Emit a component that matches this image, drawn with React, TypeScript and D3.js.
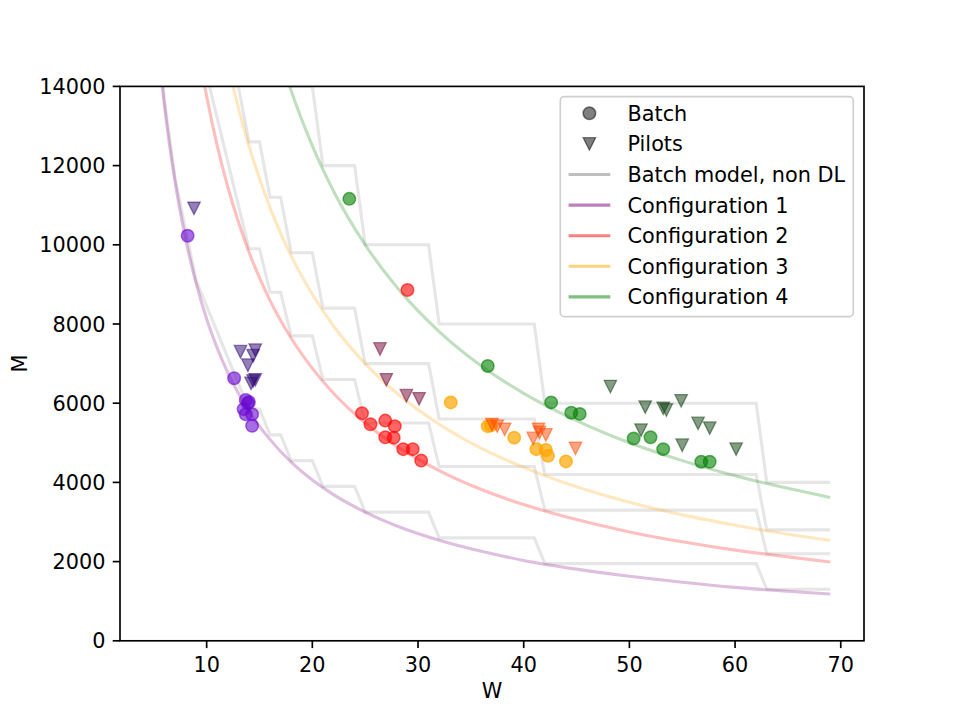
import React from 'react';
import * as d3 from 'd3';

const WIDTH = 960;
const HEIGHT = 720;
const PLOT = { left: 120, right: 864, top: 86.4, bottom: 640.8 };
const FONT = 'DejaVu Sans, sans-serif';
const FONT_SIZE = 20.8;

const X_TICKS = [10, 20, 30, 40, 50, 60, 70];
const Y_TICKS = [0, 2000, 4000, 6000, 8000, 10000, 12000, 14000];

const CONFIG_NAMES = ['Configuration 1', 'Configuration 2', 'Configuration 3', 'Configuration 4'];
const CONFIG_LINE_COLORS = ['#800080', '#ff0000', '#ffa500', '#008000'];
const CONFIG_LINE_ALPHA = [0.25, 0.25, 0.25, 0.25];
const BATCH_COLORS = ['#6b0ad0', '#ff0000', '#ffa500', '#008000'];
const BATCH_ALPHA = [0.6, 0.6, 0.7, 0.6];
const PILOT_COLORS = ['#2a0070', '#700030', '#ff4900', '#0a3a0a'];

// batch model (non DL): W runs 5..69, node blocks per W, memory per block per configuration
const STEP_W = d3.range(5, 70);
const STEP_BLOCKS = [
  25, 21, 18, 16, 14, 13, 12, 11, 10, 9, 9, 8, 8, 7, 7, 7, 6, 6, 6, 6,
  5, 5, 5, 5, 5, 5, 5,
  4, 4, 4, 4, 4, 4, 4, 4, 4, 4,
  3, 3, 3, 3, 3, 3, 3, 3, 3, 3, 3, 3, 3, 3, 3, 3, 3, 3, 3, 3, 3,
  2, 2, 2, 2, 2, 2, 2,
];
const STEP_UNITS = [650, 1100, 1400, 2000];

// configuration curves
const CURVE_W = [5, 6, 7, 8, 9, 10, 11, 12, 13, 14, 16, 18, 20, 22, 25, 28, 32, 36, 40, 45, 50, 55, 60, 65, 69];
const CONF1_M = [16250, 13540, 11610, 10160, 9030, 8125, 7390, 6770, 6250, 5800, 5080, 4510, 4060, 3690, 3250, 2900, 2540, 2260, 2030, 1810, 1630, 1480, 1350, 1250, 1180];
const CONF2_M = [27500, 22920, 19640, 17190, 15280, 13750, 12500, 11460, 10580, 9820, 8590, 7640, 6880, 6250, 5500, 4910, 4300, 3820, 3440, 3060, 2750, 2500, 2290, 2120, 1990];
const CONF3_M = [35000, 29170, 25000, 21880, 19440, 17500, 15910, 14580, 13460, 12500, 10940, 9720, 8750, 7950, 7000, 6250, 5470, 4860, 4380, 3890, 3500, 3180, 2920, 2690, 2540];
const CONF4_M = [50000, 41670, 35710, 31250, 27780, 25000, 22730, 20830, 19230, 17860, 15630, 13890, 12500, 11360, 10000, 8930, 7810, 6940, 6250, 5560, 5000, 4550, 4170, 3850, 3620];
const CURVES = [CONF1_M, CONF2_M, CONF3_M, CONF4_M];

// measured points [W, M]
const BATCH_1 = [[8.2, 10230], [12.6, 6630], [13.7, 6080], [14.0, 6030], [13.9, 6000], [13.5, 5850], [13.7, 5720], [14.3, 5720], [14.3, 5430]];
const PILOTS_1 = [[8.8, 10920], [13.2, 7300], [14.6, 7340], [14.4, 7200], [13.9, 6960], [14.6, 6590], [14.2, 6500], [14.4, 6560]];
const BATCH_2 = [[24.7, 5745], [25.5, 5470], [26.9, 5560], [27.8, 5420], [26.9, 5140], [27.7, 5130], [28.6, 4840], [29.5, 4840], [30.3, 4550], [29.0, 8860]];
const PILOTS_2 = [[26.4, 7370], [27.0, 6590], [28.9, 6190], [30.1, 6110]];
const BATCH_3 = [[33.1, 6020], [36.6, 5420], [36.9, 5440], [39.1, 5130], [41.2, 4840], [42.1, 4820], [42.3, 4670], [44.0, 4530]];
const PILOTS_3 = [[37.0, 5460], [37.5, 5420], [38.2, 5340], [41.4, 5340], [41.5, 5260], [42.1, 5200], [40.9, 5110], [44.9, 4860]];
const BATCH_4 = [[23.5, 11160], [36.6, 6940], [42.6, 6020], [44.5, 5760], [45.3, 5730], [50.4, 5110], [52.0, 5140], [53.2, 4840], [56.8, 4520], [57.6, 4520]];
const PILOTS_4 = [[48.2, 6420], [51.5, 5900], [53.2, 5870], [53.5, 5830], [54.9, 6060], [51.1, 5320], [56.5, 5490], [57.6, 5370], [55.0, 4940], [60.1, 4840]];
const BATCHES = [BATCH_1, BATCH_2, BATCH_3, BATCH_4];
const PILOTS = [PILOTS_1, PILOTS_2, PILOTS_3, PILOTS_4];

const MARKER_R = 6.25;

function triangle(cx: number, cy: number, r: number) {
  return `M${cx - r},${cy - r}L${cx + r},${cy - r}L${cx},${cy + r}Z`;
}

export default function App() {
  const x = d3.scaleLinear().domain([1.8, 72.2]).range([PLOT.left, PLOT.right]);
  const y = d3.scaleLinear().domain([0, 14000]).range([PLOT.bottom, PLOT.top]);

  const stepLine = d3.line<number>().x((_, i) => x(STEP_W[i])).y(d => y(d));
  const curveLine = d3.line<number>().x((_, i) => x(CURVE_W[i])).y(d => y(d)).curve(d3.curveMonotoneX);

  const legendTop = 113.3;
  const legendGap = 30.6;
  const legendX = 560.3;
  const legendRows = [
    { label: 'Batch', kind: 'circle' },
    { label: 'Pilots', kind: 'triangle' },
    { label: 'Batch model, non DL', kind: 'line', color: '#808080' },
    ...CONFIG_NAMES.map((n, i) => ({ label: n, kind: 'line', color: CONFIG_LINE_COLORS[i] })),
  ];

  return (
    <div style={{ position: 'absolute', left: 0, top: 0 }}>
      <svg width={WIDTH} height={HEIGHT} style={{ display: 'block', background: '#fff' }} fontFamily={FONT}>
        <defs>
          <clipPath id="plot-clip">
            <rect x={PLOT.left} y={PLOT.top} width={PLOT.right - PLOT.left} height={PLOT.bottom - PLOT.top} />
          </clipPath>
        </defs>
        <rect x={0} y={0} width={WIDTH} height={HEIGHT} fill="#fff" />

        <g clipPath="url(#plot-clip)">
          {STEP_UNITS.map((unit, k) => (
            <path key={'step' + k} d={stepLine(STEP_BLOCKS.map(b => b * unit)) || ''}
              fill="none" stroke="#808080" strokeOpacity={0.2} strokeWidth={3.1} />
          ))}
          {CURVES.map((c, k) => (
            <path key={'curve' + k} d={curveLine(c) || ''} fill="none"
              stroke={CONFIG_LINE_COLORS[k]} strokeOpacity={CONFIG_LINE_ALPHA[k]} strokeWidth={3.1} />
          ))}
          {BATCHES.map((pts, k) => pts.map((p, j) => (
            <circle key={`b${k}-${j}`} cx={x(p[0])} cy={y(p[1])} r={MARKER_R}
              fill={BATCH_COLORS[k]} fillOpacity={BATCH_ALPHA[k]}
              stroke={BATCH_COLORS[k]} strokeOpacity={BATCH_ALPHA[k]} strokeWidth={1.5} />
          )))}
          {PILOTS.map((pts, k) => pts.map((p, j) => (
            <path key={`p${k}-${j}`} d={triangle(x(p[0]), y(p[1]), MARKER_R)}
              fill={PILOT_COLORS[k]} fillOpacity={0.5}
              stroke={PILOT_COLORS[k]} strokeOpacity={0.5} strokeWidth={1.3} strokeLinejoin="miter" />
          )))}
        </g>

        {/* spines */}
        <rect x={PLOT.left} y={PLOT.top} width={PLOT.right - PLOT.left} height={PLOT.bottom - PLOT.top}
          fill="none" stroke="#000" strokeWidth={1.67} />

        {/* x axis */}
        {X_TICKS.map(t => (
          <g key={'xt' + t} transform={`translate(${x(t)},${PLOT.bottom})`}>
            <line y1={0} y2={7.3} stroke="#000" strokeWidth={1.67} />
            <text y={14.6} dy="0.78em" textAnchor="middle" fontSize={FONT_SIZE}>{t}</text>
          </g>
        ))}
        <text x={(PLOT.left + PLOT.right) / 2} y={698} textAnchor="middle" fontSize={FONT_SIZE}>W</text>

        {/* y axis */}
        {Y_TICKS.map(t => (
          <g key={'yt' + t} transform={`translate(${PLOT.left},${y(t)})`}>
            <line x1={0} x2={-7.3} stroke="#000" strokeWidth={1.67} />
            <text x={-14.6} dy="0.36em" textAnchor="end" fontSize={FONT_SIZE}>{t}</text>
          </g>
        ))}
        <text transform={`translate(26.5,${(PLOT.top + PLOT.bottom) / 2}) rotate(-90)`} textAnchor="middle" fontSize={FONT_SIZE}>M</text>

        {/* legend */}
        <g>
          <rect x={legendX} y={96.7} width={293} height={220} rx={4} fill="#fff" fillOpacity={0.8}
            stroke="#d0d0d0" strokeWidth={1.67} />
          {legendRows.map((row, i) => {
            const ry = legendTop + i * legendGap;
            return (
              <g key={'lg' + i}>
                {row.kind === 'circle' && (
                  <circle cx={589.4} cy={ry} r={MARKER_R} fill="#000" fillOpacity={0.5} stroke="#000" strokeOpacity={0.5} strokeWidth={1.5} />
                )}
                {row.kind === 'triangle' && (
                  <path d={triangle(589.4, ry, MARKER_R)} fill="#000" fillOpacity={0.5} stroke="#000" strokeOpacity={0.5} strokeWidth={1.3} />
                )}
                {row.kind === 'line' && (
                  <line x1={568.6} x2={610.3} y1={ry} y2={ry} stroke={row.color} strokeOpacity={0.5} strokeWidth={3.1} />
                )}
                <text x={627.5} y={ry} dy="0.36em" fontSize={FONT_SIZE}>{row.label}</text>
              </g>
            );
          })}
        </g>
      </svg>
    </div>
  );
}
